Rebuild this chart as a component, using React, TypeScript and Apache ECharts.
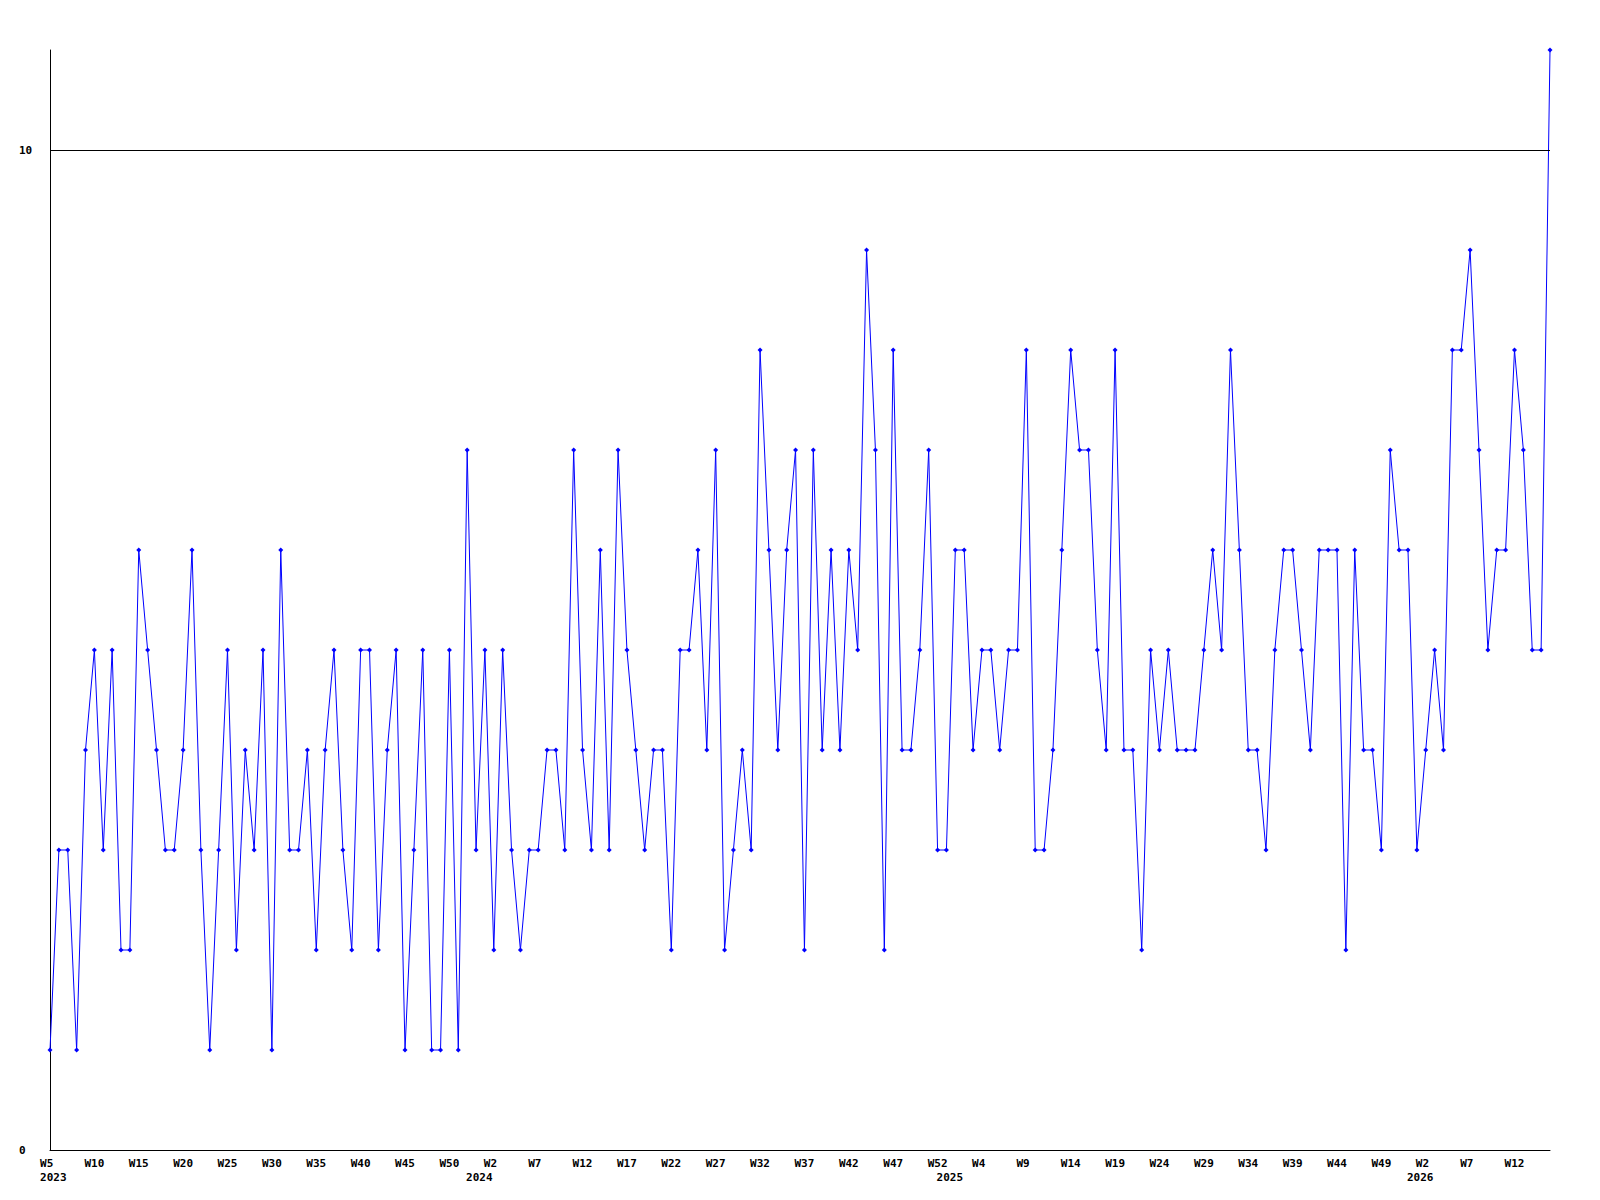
import React, { useEffect, useRef } from "react";
import * as echarts from "echarts";

// Week numbers shown on the category axis, per year
const weeks2023 = [5,6,7,8,9,10,11,12,13,14,15,16,17,18,19,20,21,22,23,24,25,26,27,28,29,30,31,32,33,34,35,36,37,38,39,40,41,42,43,44,45,46,47,48,49,50,51,52];
const weeks2024 = [0,1,2,3,4,5,6,7,8,9,10,11,12,13,14,15,16,17,18,19,20,21,22,23,24,25,26,27,28,29,30,31,32,33,34,35,36,37,38,39,40,41,42,43,44,45,46,47,48,49,50,51,52];
const weeks2025 = [0,1,2,3,4,5,6,7,8,9,10,11,12,13,14,15,16,17,18,19,20,21,22,23,24,25,26,27,28,29,30,31,32,33,34,35,36,37,38,39,40,41,42,43,44,45,46,47,48,49,50,51,52];
const weeks2026 = [1,2,3,4,5,6,7,8,9,10,11,12,13,14,15,16];

// Weekly counts
const values = [
  1,3,3,1,4,5,3,5,2,2,6,5,4,3,3,4,6,3,1,
  3,5,2,4,3,5,1,6,3,3,4,2,4,5,3,2,5,5,2,
  4,5,1,3,5,1,1,5,1,7,3,5,2,5,3,2,3,3,
  4,4,3,7,4,3,6,3,7,5,4,3,4,4,2,5,5,6,4,
  7,2,3,4,3,8,6,4,6,7,2,7,4,6,4,6,5,9,7,
  2,8,4,4,5,7,3,3,6,6,4,5,5,4,5,5,8,3,
  3,4,6,8,7,7,5,4,8,4,4,2,5,4,5,4,4,4,5,
  6,5,8,6,4,4,3,5,6,6,5,4,6,6,6,2,6,4,
  4,3,7,6,6,3,4,5,4,8,8,9,7,5,6,6,8,7,5,5,11,
];

const yTickValues = [0, 10];
const refLineValue = 10;

const categories: string[] = [
  ...weeks2023.map((w) => `2023 W${w}`),
  ...weeks2024.map((w) => `2024 W${w}`),
  ...weeks2025.map((w) => `2025 W${w}`),
  ...weeks2026.map((w) => `2026 W${w}`),
];

const NB = "\u00a0";
const FONT = "DejaVu Sans Mono";

export default function App() {
  const ref = useRef<HTMLDivElement>(null);
  useEffect(() => {
    if (!ref.current) return;
    const chart = echarts.init(ref.current, undefined, { renderer: "svg" });
    const textStyle = { fontFamily: FONT, fontWeight: "bold" as const, fontSize: 11, color: "#000" };
    chart.setOption({
      animation: false,
      backgroundColor: "#fff",
      grid: { left: 50, right: 50, top: 50, bottom: 50, containLabel: false },
      xAxis: [
        {
          type: "category",
          data: categories,
          boundaryGap: false,
          axisLine: { show: true, lineStyle: { color: "#000", width: 1 } },
          axisTick: { show: false },
          splitLine: { show: false },
          axisLabel: {
            ...textStyle,
            interval: 4,
            margin: 8,
            formatter: (v: string) => {
              const w = v.split(" ")[1];
              return w.length < 3 ? w + NB : w;
            },
          },
        },
        {
          type: "category",
          data: categories,
          boundaryGap: false,
          position: "bottom",
          axisLine: { show: false },
          axisTick: { show: false },
          splitLine: { show: false },
          axisLabel: {
            ...textStyle,
            margin: 22,
            interval: (i: number) => i === 0 || categories[i].split(" ")[0] !== categories[i - 1].split(" ")[0],
            formatter: (v: string) => NB + v.split(" ")[0],
          },
        },
      ],
      yAxis: {
        type: "value",
        min: 0,
        max: 11,
        interval: 10,
        axisLine: { show: true, lineStyle: { color: "#000", width: 1 } },
        axisTick: { show: false },
        splitLine: { show: false },
        axisLabel: {
          ...textStyle,
          align: "left",
          margin: 31,
          showMaxLabel: false,
          formatter: (v: number) => (yTickValues.includes(v) ? String(v) : ""),
        },
      },
      series: [
        {
          type: "line",
          data: values,
          xAxisIndex: 0,
          symbol: "diamond",
          symbolSize: 5,
          showSymbol: true,
          showAllSymbol: true,
          lineStyle: { color: "#0000ff", width: 1 },
          itemStyle: { color: "#0000ff" },
          clip: true,
          markLine: {
            silent: true,
            symbol: "none",
            label: { show: false },
            lineStyle: { color: "#000", width: 1, type: "solid" },
            data: [{ yAxis: refLineValue }],
          },
        },
      ],
    });
    return () => chart.dispose();
  }, []);
  return <div ref={ref} style={{ position: "absolute", left: 0, top: 0, width: 1600, height: 1200 }} />;
}
